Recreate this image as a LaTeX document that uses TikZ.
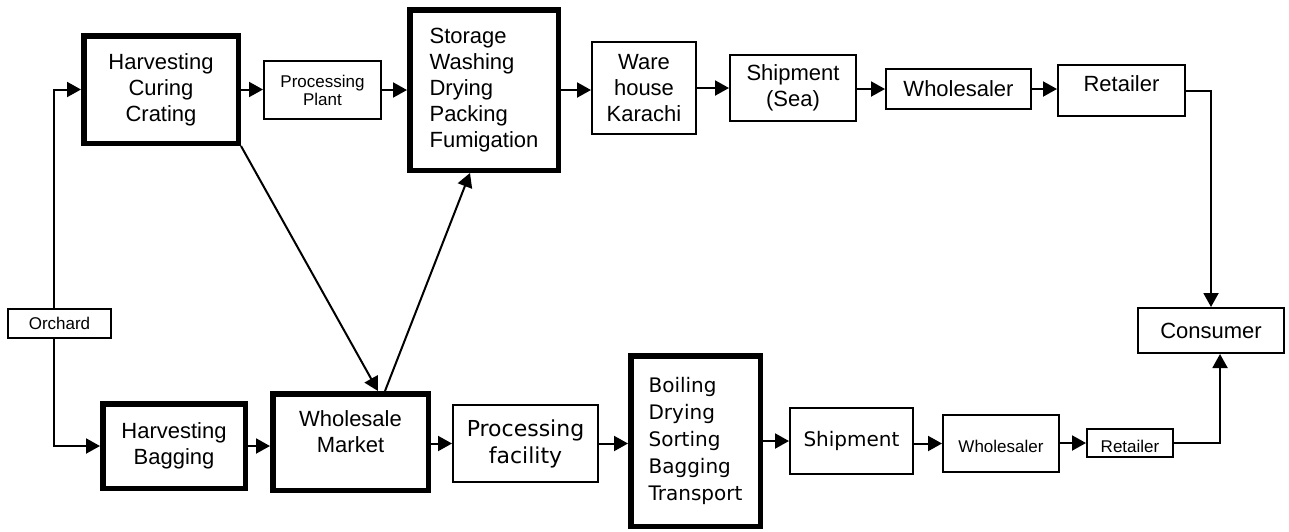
\documentclass[tikz,border=0pt]{standalone}
\usepackage{fontspec}
\setmainfont{Liberation Sans}
\newfontfamily\tahoma{DejaVu Sans}
\usetikzlibrary{arrows.meta}
\tikzset{
Boite/.style={
 draw=black,
 line width=2pt,
 inner sep=0pt,
 align=center,
 font=\fontsize{22}{26}\selectfont
 },
GBoite/.style={
 Boite,
 line width=5.5pt
 },
Petit/.style={
 font=\fontsize{17}{18}\selectfont
 },
Tahoma/.style={
 font=\tahoma\fontsize{#1}{27}\selectfont
 },
Taille/.style 2 args={
 minimum width=#1pt,
 minimum height=#2pt
 },
Fleche/.style={
 draw=black,
 line width=2pt,
 -{Triangle[length=14pt,width=15pt]}
 }
}

\begin{document}
\begin{tikzpicture}[x=1pt,y=-1pt]
\useasboundingbox (0,0) rectangle (1289,531);
% chaine du haut
\node[Boite,Petit,Taille={103}{29}] (orchard) at (59.5,323.5) {Orchard};
\node[GBoite,Taille={154.5}{107.5}] (hcc) at (161,89.5) {Harvesting\\Curing\\Crating};
\node[Boite,Petit,Taille={117}{58}] (pp) at (322.5,90) {Processing\\Plant};
\node[GBoite,align=left,Taille={148.5}{160.5}] (storage) at (484,90) {Storage\\Washing\\Drying\\Packing\\Fumigation};
\node[Boite,Taille={104}{92}] (wh) at (644,88) {Ware\\house\\Karachi};
\node[Boite,Taille={126}{66}] (ship) at (793,88) {Shipment\\(Sea)};
\node[Boite,Taille={145}{40}] (whs) at (958.5,89) {Wholesaler};
\node[Boite,Taille={127}{51},label={[font=\fontsize{22}{26}\selectfont,yshift=7pt]center:Retailer}] (ret) at (1121.5,90.5) {};
\node[Boite,Taille={146}{45}] (cons) at (1211,330.5) {Consumer};
% chaine du bas
\node[GBoite,Taille={142.5}{84.5}] (hb) at (174,446) {Harvesting\\Bagging};
\node[GBoite,Taille={155.5}{96.5},label={[align=center,font=\fontsize{22}{26}\selectfont,yshift=10pt]center:{Wholesale\\Market}}] (wm) at (350.5,442) {};
\node[Boite,Tahoma=22,Taille={145}{77}] (pf) at (525.5,443.5) {Processing\\facility};
\node[GBoite,Tahoma=20,align=left,Taille={129.5}{170.5}] (boil) at (695.5,441) {Boiling\\Drying\\Sorting\\Bagging\\Transport};
\node[Boite,Tahoma=20,Taille={123}{66}] (ship2) at (851.5,441) {Shipment};
\node[Boite,Petit,Taille={116}{57},label={[font=\fontsize{17}{18}\selectfont,yshift=-3pt]center:Wholesaler}] (whs2) at (1001,443.5) {};
\node[Boite,Petit,Taille={86}{28},label={[font=\fontsize{17}{18}\selectfont,yshift=-3pt]center:Retailer}] (ret2) at (1130,443) {};
\coordinate (haut) at (54,91);
\coordinate (bas) at (54,446);
\draw[Fleche] (orchard.north -| haut) |- (hcc.west);
\draw[Fleche] (orchard.south -| bas) |- (hb.west);
\draw[Fleche] (hcc.east) -- (hcc.east -| pp.west);
\draw[Fleche] (pp.east) -- (pp.east -| storage.west);
\draw[Fleche] (storage.east) -- (storage.east -| wh.west);
\draw[Fleche] (wh.east) -- (wh.east -| ship.west);
\draw[Fleche] (ship.east |- whs) -- (whs.west);
\draw[Fleche] (whs.east) -- (whs.east -| ret.west);
\draw[Fleche] (ret.east) -| (cons.north);
\draw[Fleche] (hcc.south east) -- ([xshift=27.5pt]wm.north);
\draw[Fleche] ([xshift=34.5pt]wm.north) -- ([xshift=-14pt]storage.south);
\draw[Fleche] (hb.east) -- (hb.east -| wm.west);
\draw[Fleche] (wm.east |- pf) -- (pf.west);
\draw[Fleche] (pf.east) -- (pf.east -| boil.west);
\draw[Fleche] (boil.east |- ship2) -- (ship2.west);
\draw[Fleche] (ship2.east |- whs2) -- (whs2.west);
\draw[Fleche] (whs2.east |- ret2) -- (ret2.west);
\draw[Fleche] (ret2.east) -| ([xshift=9pt]cons.south);
\end{tikzpicture}
\end{document}
